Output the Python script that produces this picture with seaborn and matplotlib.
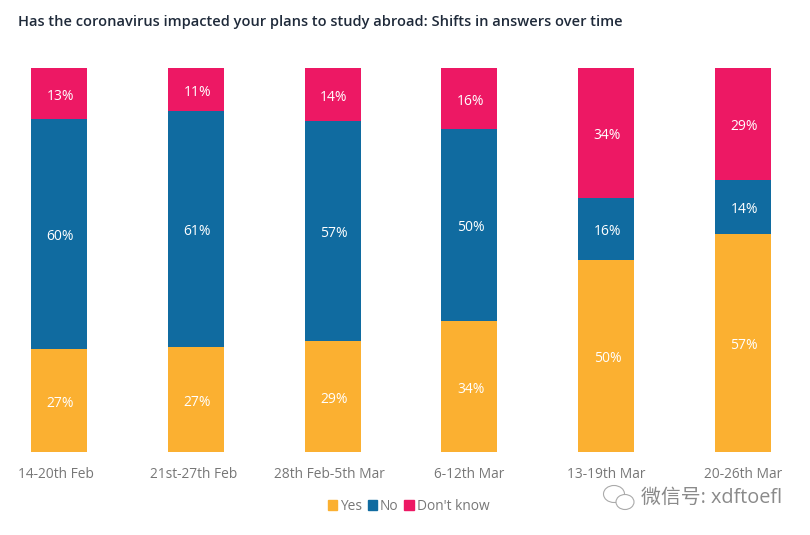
import matplotlib
matplotlib.use("Agg")
import matplotlib.pyplot as plt
from matplotlib.patches import Ellipse, Patch
from matplotlib.transforms import ScaledTranslation
import seaborn as sns
import numpy as np

periods = ["14-20th Feb", "21st-27th Feb", "28th Feb-5th Mar", "6-12th Mar", "13-19th Mar", "20-26th Mar"]
yes = [26.8, 27.4, 28.9, 34.1, 50.0, 56.8]
no = [59.9, 61.4, 57.3, 50.0, 16.1, 14.1]
dont_know = [13.3, 11.2, 13.8, 15.9, 33.9, 29.1]
series_names = ["Yes", "No", "Don't know"]
series_colors = ["#FBB031", "#106BA0", "#ED1864"]
series_values = [yes, no, dont_know]

sns.set_theme(style="white")
plt.rcParams['font.family'] = ['Open Sans', 'Noto Sans CJK SC', 'DejaVu Sans']

fig = plt.figure(figsize=(8.1, 5.35), dpi=100)
ax = fig.add_axes([0, (535 - 452) / 535, 1, (452 - 68) / 535])

tops = np.cumsum(series_values, axis=0)
# draw tallest cumulative first so that each segment stays visible
for k in reversed(range(3)):
    sns.barplot(x=periods, y=tops[k], color=series_colors[k], width=0.41, saturation=1,
                linewidth=0, ax=ax, order=periods)
for k in range(3):
    for i, v in enumerate(series_values[k]):
        ax.annotate(f"{v:.0f}%", (i, tops[k][i] - v / 2), xytext=(1, -0.6), textcoords="offset points",
                    ha="center", va="center_baseline", color="white", fontsize=10)

ax.set_xlim(-0.431, 5.49)
ax.set_ylim(0, 100)
ax.set_yticks([])
ax.set_xlabel("")
ax.set_ylabel("")
ax.tick_params(axis="x", length=0, pad=11, labelsize=9.9, labelcolor="#777777")
sns.despine(ax=ax, left=True, bottom=True)

# the source's first three labels sit slightly left of their bars
for lab, dx in zip(ax.get_xticklabels(), [-3, -2, -3, 0, 0, 0]):
    lab.set_transform(lab.get_transform() + ScaledTranslation(dx / 100, 0, fig.dpi_scale_trans))

fig.text(18 / 810, 1 - 22 / 535,
         "Has the coronavirus impacted your plans to study abroad: Shifts in answers over time",
         fontsize=10.53, fontweight="semibold", color="#1F2A3A", va="center")

handles = [Patch(color=c) for c in series_colors]
fig.legend(handles, series_names, loc="center", bbox_to_anchor=(408.5 / 810, 1 - 506 / 535), ncol=3,
           frameon=False, fontsize=9.9, labelcolor="#777777", handlelength=0.7, handleheight=0.7,
           handletextpad=0.2, columnspacing=0.4)

fig.text(641 / 810, 1 - 498 / 535, "微信号: xdftoefl", fontsize=14.3, color="#8a8a8a", va="center")

def px_ellipse(cx, cy, w, h):
    fig.add_artist(Ellipse((cx / 810, 1 - cy / 535), w / 810, h / 535, transform=fig.transFigure,
                           fill=True, facecolor="white", edgecolor="#aaaaaa", linewidth=0.8))

px_ellipse(614, 494, 21, 17)
px_ellipse(625, 502, 18, 15)

fig.savefig("out.png", dpi=100)
